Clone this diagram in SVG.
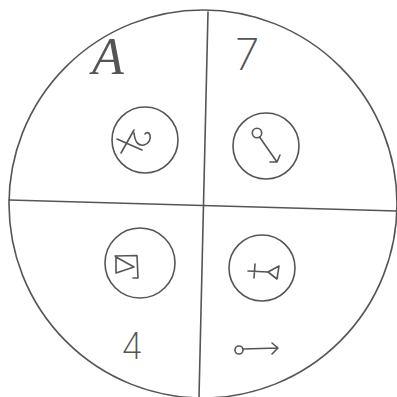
<svg xmlns="http://www.w3.org/2000/svg" width="397" height="397" viewBox="0 0 397 397">
<style>
.ln{fill:none;stroke:#555;stroke-width:1.6;stroke-linecap:round;stroke-linejoin:round}
.tx{fill:#555;font-family:Inter,"Liberation Sans",sans-serif;font-weight:200}
.sc{fill:#555;font-family:"Liberation Serif",serif;font-style:italic;font-weight:normal}
</style>
<rect width="397" height="397" fill="#fff"/>
<g id="frame">
<circle class="ln" cx="203" cy="204" r="194"/>
</g>
<g id="connectors">
<path class="ln" d="M208,12 L199,397"/>
<path class="ln" d="M9,200 L397,211"/>
</g>
<g id="node-tl">
<circle class="ln" cx="145" cy="140" r="33"/>
<path class="ln" d="M117,139 L142,150 M134,130 L121,153 M134,133 C135,143 139,146 144,145 C149,144 151,139 150,135 C149,132 146,132 145,134"/>
</g>
<g id="node-tr">
<circle class="ln" cx="266" cy="146" r="33"/>
<circle class="ln" cx="257" cy="133" r="4.7"/>
<path class="ln" d="M259.5,137 L277,162 M270,162 L277,162 L280,155"/>
</g>
<g id="node-bl">
<circle class="ln" cx="140" cy="263" r="35"/>
<path class="ln" d="M115,256 L137,255.5 L138,278 L133,278 M116,257 L116,273 L134,267 Z"/>
</g>
<g id="node-br">
<circle class="ln" cx="262" cy="268" r="33"/>
<path class="ln" d="M248,271 L268,272 M255,264 L254,278 M268,272 L279,266 L277,279 Z"/>
</g>
<g id="label-a">
<text class="sc" x="92" y="74" font-size="52">A</text>
</g>
<g id="label-7">
<text class="tx" x="235" y="70" font-size="44">7</text>
</g>
<g id="label-4">
<text class="tx" x="121" y="359" font-size="36">4</text>
</g>
<g id="label-arrow">
<circle class="ln" cx="239" cy="350" r="4"/>
<path class="ln" d="M243,349 L278,348 M272,343 L278,348 L272,354"/>
</g>
</svg>
